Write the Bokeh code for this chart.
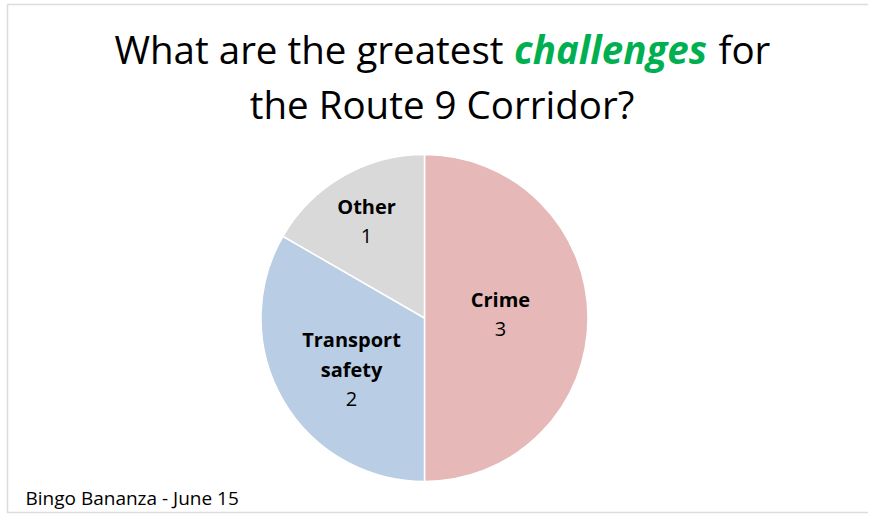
import numpy as np
from bokeh.plotting import figure
from bokeh.models import ColumnDataSource, Label, BoxAnnotation, Range1d
from bokeh.core.properties import value
from bokeh.embed import file_html
from bokeh.resources import INLINE

# ---- data ----
categories = ["Crime", "Transport\nsafety", "Other"]
counts = [3, 2, 1]
colors = ["#E6B9B8", "#B9CDE5", "#D9D9D9"]
title_parts = ["What are the greatest ", "challenges", " for"]
title_line2 = "the Route 9 Corridor?"
footer = "Bingo Bananza - June 15"

# ---- label placement styles ----
label_radius_frac = [0.465, 0.576, 0.647]
label_angle_shift = [-3.4, 9.2, 3.2]
line_step = 30.0
FONT = "Open Sans"
FIX = 0.42          # baseline correction (fraction of font size)
LS, TS, FS = 20, 38.5, 19

W, H = 868, 515
R = 163.5
p = figure(width=W, height=H, output_backend="svg", toolbar_location=None,
           x_axis_type=None, y_axis_type=None, min_border=0,
           x_range=Range1d(-424, 444), y_range=Range1d(-197.5, 317.5))
p.grid.visible = False
p.outline_line_color = None
p.background_fill_color = "white"
p.border_fill_color = "white"

vals = np.array(counts, dtype=float)
frac = vals / vals.sum()
cum_end = np.cumsum(frac)
cum_start = cum_end - frac
start = 90 - 360 * cum_end
end = 90 - 360 * cum_start
src = ColumnDataSource(dict(cat=categories, val=counts, color=colors,
                            start=np.deg2rad(start), end=np.deg2rad(end)))
p.wedge(x=0, y=0, radius=R, start_angle="start", end_angle="end",
        fill_color="color", line_color="white",
        line_width=1.5, source=src)

# slice labels
bx, by, bt, nx, ny, nt = [], [], [], [], [], []
for i, (c, v) in enumerate(zip(categories, counts)):
    mid = (start[i] + end[i]) / 2 + label_angle_shift[i]
    r = label_radius_frac[i] * R
    ax = r * np.cos(np.deg2rad(mid))
    ay = r * np.sin(np.deg2rad(mid)) + FIX * LS
    lines = c.split("\n")
    n = len(lines) + 1
    for k, ln in enumerate(lines):
        bx.append(ax)
        by.append(ay + (n - 1) / 2 * line_step - k * line_step)
        bt.append(ln)
    nx.append(ax)
    ny.append(ay + (n - 1) / 2 * line_step - (n - 1) * line_step)
    nt.append(str(v))

p.text(x=bx, y=by, text=bt, text_font=value(FONT), text_font_style="bold",
       text_font_size=f"{LS}px", text_align="center", text_baseline="alphabetic",
       text_color="black")
p.text(x=nx, y=ny, text=nt, text_font=value(FONT), text_font_style="normal",
       text_font_size=f"{LS}px", text_align="center", text_baseline="alphabetic",
       text_color="black")

# title
y1 = 252.8 + FIX * TS
y2 = 197.8 + FIX * TS
p.add_layout(Label(x=79, y=y1, text=title_parts[0].rstrip(), text_font=FONT,
                   text_font_size=f"{TS}px", text_align="right", text_baseline="alphabetic",
                   text_color="black"))
p.add_layout(Label(x=186, y=y1, text=title_parts[1], text_font=FONT,
                   text_font_size=f"{TS}px", text_font_style="bold italic",
                   text_align="center", text_baseline="alphabetic",
                   text_color="#00B050"))
p.add_layout(Label(x=294, y=y1, text=title_parts[2].strip(), text_font=FONT,
                   text_font_size=f"{TS}px", text_align="left", text_baseline="alphabetic",
                   text_color="black"))
p.add_layout(Label(x=17.5, y=y2, text=title_line2, text_font=FONT,
                   text_font_size=f"{TS}px", text_align="center", text_baseline="alphabetic",
                   text_color="black"))

# footer
p.add_layout(Label(x=-399, y=-187.5 + FIX * FS, text=footer, text_font=FONT,
                   text_font_size=f"{FS}px", text_align="left",
                   text_baseline="alphabetic", text_color="black"))

# border (left, top, bottom; right side lies outside the window)
p.add_layout(BoxAnnotation(left=-417, right=600, bottom=-194.5, top=313.5,
                           fill_alpha=0, line_color="#8c8c8c", line_width=1.5))

open("out.html", "w").write(file_html(p, INLINE))
